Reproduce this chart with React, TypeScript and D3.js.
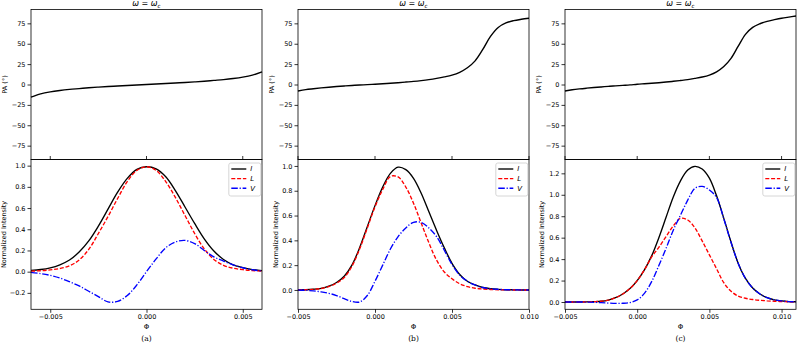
import { useEffect, useRef } from 'react';
import * as d3 from 'd3';

// phase grids (Φ) for each panel
const phiA = [-0.006, -0.0055, -0.005, -0.0045, -0.004, -0.0035, -0.003, -0.0025, -0.002, -0.0015, -0.001, -0.0005, 0,
  0.0005, 0.001, 0.0015, 0.002, 0.0025, 0.003, 0.0035, 0.004, 0.0045, 0.005, 0.0055, 0.006];
const phiB = [-0.005, -0.0045, -0.004, -0.0035, -0.003, -0.0025, -0.002, -0.0015, -0.001, -0.0005, 0,
  0.0005, 0.001, 0.0015, 0.002, 0.0025, 0.003, 0.0035, 0.004, 0.0045, 0.005,
  0.0055, 0.006, 0.0065, 0.007, 0.0075, 0.008, 0.0085, 0.009, 0.0095, 0.01];
const phiC = [-0.005, -0.0045, -0.004, -0.0035, -0.003, -0.0025, -0.002, -0.0015, -0.001, -0.0005, 0,
  0.0005, 0.001, 0.0015, 0.002, 0.0025, 0.003, 0.0035, 0.004, 0.0045, 0.005,
  0.0055, 0.006, 0.0065, 0.007, 0.0075, 0.008, 0.0085, 0.009, 0.0095, 0.01, 0.0105, 0.011];

// position angle (deg)
const paA = [-15.5, -11.5, -9, -7.3, -6, -5, -4, -3.2, -2.5, -1.8, -1.2, -0.6, 0, 0.6, 1.2, 1.8, 2.5, 3.2, 4, 5, 6, 7.3, 9, 11.5, 15.5];
const paB = [-8, -6.3, -5.2, -4.2, -3.3, -2.5, -1.8, -1.2, -0.7, -0.2, 0.3, 0.9, 1.5, 2.2, 3, 3.8, 4.8, 6, 7.5, 9.3, 11.5,
  15, 20.5, 29, 43, 59, 70, 75.5, 78.3, 80, 81.3];
const paC = [-8, -6.5, -5.4, -4.5, -3.7, -3, -2.3, -1.7, -1.1, -0.5, 0.3, 0.9, 1.5, 2.2, 3, 3.9, 4.9, 6, 7.5, 9.2, 11.6,
  15.5, 22, 32, 47, 61.5, 70, 74.5, 77.5, 79.5, 81.3, 82.7, 84];

// normalized intensities
const iA = [0.012, 0.02, 0.036, 0.065, 0.11, 0.185, 0.29, 0.43, 0.59, 0.75, 0.88, 0.965, 0.99, 0.97, 0.895, 0.765, 0.61, 0.455, 0.31, 0.195, 0.115, 0.065, 0.038, 0.02, 0.01];
const lA = [0.005, 0.009, 0.017, 0.03, 0.055, 0.11, 0.21, 0.36, 0.52, 0.69, 0.85, 0.955, 0.99, 0.955, 0.85, 0.7, 0.53, 0.36, 0.215, 0.115, 0.06, 0.033, 0.019, 0.01, 0.005];
const vA = [-0.006, -0.018, -0.035, -0.06, -0.095, -0.135, -0.185, -0.235, -0.285, -0.28, -0.225, -0.125, 0, 0.12, 0.225, 0.28, 0.295, 0.265, 0.2, 0.14, 0.1, 0.065, 0.037, 0.018, 0.006];

const iB = [0, 0.002, 0.006, 0.013, 0.03, 0.06, 0.11, 0.2, 0.34, 0.51, 0.68, 0.83, 0.94, 0.99, 0.97, 0.9, 0.78, 0.63, 0.48, 0.34, 0.215,
  0.125, 0.07, 0.04, 0.02, 0.01, 0.005, 0.002, 0.001, 0, 0];
const lB = [0, 0.002, 0.005, 0.012, 0.027, 0.055, 0.1, 0.19, 0.33, 0.5, 0.67, 0.81, 0.915, 0.912, 0.83, 0.7, 0.54, 0.38, 0.24, 0.145, 0.09,
  0.05, 0.027, 0.014, 0.008, 0.004, 0.002, 0.001, 0, 0, 0];
const vB = [0, -0.003, -0.008, -0.015, -0.027, -0.045, -0.07, -0.093, -0.097, -0.045, 0.07, 0.2, 0.33, 0.43, 0.5, 0.545, 0.545, 0.5, 0.43, 0.32, 0.205,
  0.12, 0.07, 0.04, 0.02, 0.01, 0.005, 0.002, 0.001, 0, 0];

const iC = [0, 0, 0, 0.001, 0.003, 0.007, 0.018, 0.04, 0.075, 0.125, 0.2, 0.3, 0.43, 0.6, 0.79, 0.98, 1.13, 1.23, 1.265, 1.24, 1.155,
  0.99, 0.78, 0.56, 0.36, 0.22, 0.13, 0.075, 0.04, 0.02, 0.01, 0.004, 0.002];
const lC = [0, 0, 0, 0.001, 0.003, 0.007, 0.018, 0.04, 0.075, 0.125, 0.2, 0.3, 0.42, 0.51, 0.61, 0.71, 0.78, 0.765, 0.69, 0.57, 0.44,
  0.31, 0.18, 0.1, 0.055, 0.035, 0.023, 0.016, 0.011, 0.007, 0.004, 0.002, 0.001];
const vC = [0, 0, 0, -0.001, -0.003, -0.006, -0.01, -0.013, -0.012, -0.005, 0.02, 0.08, 0.19, 0.34, 0.5, 0.67, 0.81, 0.95, 1.06, 1.078, 1.045,
  0.975, 0.775, 0.555, 0.36, 0.22, 0.13, 0.075, 0.04, 0.02, 0.01, 0.004, 0.002];

// ticks
const paTicks = [-75, -50, -25, 0, 25, 50, 75];
const xTicksA = [-0.005, 0, 0.005];
const xTicksBC = [-0.005, 0, 0.005, 0.01];
const yTicksA = [-0.2, 0, 0.2, 0.4, 0.6, 0.8, 1.0];
const yTicksB = [0, 0.2, 0.4, 0.6, 0.8, 1.0];
const yTicksC = [0, 0.2, 0.4, 0.6, 0.8, 1.0, 1.2];

const panels = [
  { left: 31, xDomain: [-0.006, 0.006], xTicks: xTicksA, phi: phiA, pa: paA, I: iA, L: lA, V: vA, yDomain: [-0.355, 1.058], yTicks: yTicksA, caption: '(a)', niOffset: 27.7 },
  { left: 298, xDomain: [-0.005, 0.01], xTicks: xTicksBC, phi: phiB, pa: paB, I: iB, L: lB, V: vB, yDomain: [-0.156, 1.052], yTicks: yTicksB, caption: '(b)', niOffset: 22 },
  { left: 565, xDomain: [-0.005, 0.011], xTicks: xTicksBC, phi: phiC, pa: paC, I: iC, L: lC, V: vC, yDomain: [-0.068, 1.329], yTicks: yTicksC, caption: '(c)', niOffset: 23 },
];

const W = 797;
const H = 348;
const plotW = 231;
const topY0 = 9.5;
const topY1 = 159.5;
const botY0 = 159.5;
const botY1 = 309.3;
const FONT = 'DejaVu Sans';

export default function App() {
  const svgRef = useRef<SVGSVGElement>(null);

  useEffect(() => {
    if (!svgRef.current) return;
    const svg = d3.select(svgRef.current);
    svg.selectAll('*').remove();

    panels.forEach((p) => {
      const x = d3.scaleLinear().domain(p.xDomain).range([p.left, p.left + plotW]);
      const yPA = d3.scaleLinear().domain([-92, 92]).range([topY1, topY0]);
      const yN = d3.scaleLinear().domain(p.yDomain).range([botY1, botY0]);
      const cx = p.left + plotW / 2;
      const g = svg.append('g');

      const styleAxis = (sel: any) => {
        sel.select('.domain').remove();
        sel.attr('font-family', FONT).attr('font-size', 6.5);
        sel.selectAll('line').attr('stroke', '#000').attr('stroke-width', 0.8);
        sel.selectAll('text').attr('fill', '#000');
      };

      // title
      const title = g.append('text')
        .attr('x', cx)
        .attr('y', 6)
        .attr('text-anchor', 'middle')
        .attr('font-family', FONT)
        .attr('font-size', 8);
      title.append('tspan').attr('font-style', 'italic').text('ω');
      title.append('tspan').text(' = ');
      title.append('tspan').attr('font-style', 'italic').text('ω');
      title.append('tspan').attr('font-style', 'italic').attr('font-size', 5.6).attr('dy', 1.6).text('c');

      // top panel: PA
      const linePA = d3.line<number>()
        .x((_, i) => x(p.phi[i]))
        .y((d) => yPA(d))
        .curve(d3.curveCatmullRom);
      g.append('path')
        .attr('d', linePA(p.pa) as string)
        .attr('fill', 'none')
        .attr('stroke', '#000')
        .attr('stroke-width', 1.4);

      g.append('g')
        .attr('transform', `translate(${p.left},0)`)
        .call(d3.axisLeft(yPA).tickValues(paTicks).tickSize(3.5).tickPadding(2).tickFormat(d3.format('d')) as any)
        .call(styleAxis);

      p.xTicks.forEach((t) => {
        g.append('line')
          .attr('x1', x(t)).attr('x2', x(t))
          .attr('y1', topY1).attr('y2', topY1 - 3.5)
          .attr('stroke', '#000').attr('stroke-width', 0.8);
      });

      g.append('rect')
        .attr('x', p.left).attr('y', topY0)
        .attr('width', plotW).attr('height', topY1 - topY0)
        .attr('fill', 'none').attr('stroke', '#000').attr('stroke-width', 0.8);

      g.append('text')
        .attr('transform', `translate(${p.left - 26},${(topY0 + topY1) / 2}) rotate(-90)`)
        .attr('text-anchor', 'middle')
        .attr('dy', '0.35em')
        .attr('font-family', FONT)
        .attr('font-size', 6.5)
        .text('PA (°)');

      // bottom panel: I, L, V
      const lineN = d3.line<number>()
        .x((_, i) => x(p.phi[i]))
        .y((d) => yN(d))
        .curve(d3.curveCatmullRom);

      const series = [
        { values: p.I, color: '#000000', dash: null as string | null, label: 'I' },
        { values: p.L, color: '#ff0000', dash: '4,1.8', label: 'L' },
        { values: p.V, color: '#0000ff', dash: '6.5,1.8,1.2,1.8', label: 'V' },
      ];

      series.forEach((s) => {
        g.append('path')
          .attr('d', lineN(s.values) as string)
          .attr('fill', 'none')
          .attr('stroke', s.color)
          .attr('stroke-width', 1.35)
          .attr('stroke-dasharray', s.dash);
      });

      g.append('rect')
        .attr('x', p.left).attr('y', botY0)
        .attr('width', plotW).attr('height', botY1 - botY0)
        .attr('fill', 'none').attr('stroke', '#000').attr('stroke-width', 0.8);

      g.append('g')
        .attr('transform', `translate(${p.left},0)`)
        .call(d3.axisLeft(yN).tickValues(p.yTicks).tickSize(3.5).tickPadding(2).tickFormat(d3.format('.1f')) as any)
        .call(styleAxis);

      g.append('g')
        .attr('transform', `translate(0,${botY1})`)
        .call(d3.axisBottom(x).tickValues(p.xTicks).tickSize(3.5).tickPadding(2).tickFormat(d3.format('.3f')) as any)
        .call(styleAxis);

      g.append('text')
        .attr('transform', `translate(${p.left - p.niOffset},${(botY0 + botY1) / 2}) rotate(-90)`)
        .attr('text-anchor', 'middle')
        .attr('dy', '0.35em')
        .attr('font-family', FONT)
        .attr('font-size', 6.5)
        .text('Normalized Intensity');

      g.append('text')
        .attr('x', cx).attr('y', 328.5)
        .attr('text-anchor', 'middle')
        .attr('font-family', FONT)
        .attr('font-size', 7)
        .text('Φ');

      g.append('text')
        .attr('x', cx).attr('y', 340.5)
        .attr('text-anchor', 'middle')
        .attr('font-family', 'DejaVu Serif')
        .attr('font-size', 7.5)
        .text(p.caption);

      // legend
      const boxW = 32;
      const boxX = p.left + plotW - 1.2 - boxW;
      const boxY = botY0 + 3.5;
      const legend = g.append('g');
      legend.append('rect')
        .attr('x', boxX).attr('y', boxY)
        .attr('width', boxW).attr('height', 33)
        .attr('rx', 2)
        .attr('fill', '#fff').attr('fill-opacity', 0.8)
        .attr('stroke', '#cccccc').attr('stroke-width', 0.8);
      series.forEach((s, i) => {
        const ry = boxY + 6 + i * 9.6;
        legend.append('line')
          .attr('x1', boxX + 2.5).attr('x2', boxX + 17.5)
          .attr('y1', ry).attr('y2', ry)
          .attr('stroke', s.color).attr('stroke-width', 1.35)
          .attr('stroke-dasharray', s.dash);
        legend.append('text')
          .attr('x', boxX + 21.5).attr('y', ry)
          .attr('dy', '0.35em')
          .attr('font-family', FONT)
          .attr('font-style', 'italic')
          .attr('font-size', 7)
          .text(s.label);
      });
    });
  }, []);

  return (
    <svg
      ref={svgRef}
      width={W}
      height={H}
      style={{ position: 'absolute', left: 0, top: 0, background: '#fff' }}
    />
  );
}
